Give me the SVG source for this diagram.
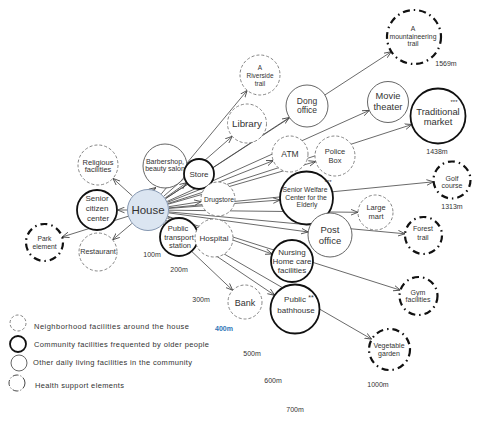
<svg xmlns="http://www.w3.org/2000/svg" width="483" height="425" viewBox="0 0 483 425">
<style>
text{font-family:"Liberation Sans",Arial,sans-serif;fill:#333;text-anchor:middle}
.nb{fill:#fff;stroke:#777;stroke-width:0.9;stroke-dasharray:3 2}
.cm{fill:#fff;stroke:#111;stroke-width:1.8}
.ot{fill:#fff;stroke:#555;stroke-width:0.9}
.hs{fill:#fff;stroke:#111;stroke-width:2.2;stroke-dasharray:7 4 1.5 4}
#connectors line{stroke:#444;stroke-width:0.8;marker-end:url(#ah)}
.lg text{text-anchor:start;font-size:7.5px}
.d text{font-size:7px}
</style>
<defs>
<marker id="ah" viewBox="0 0 10 10" refX="10" refY="5" markerWidth="7" markerHeight="7" markerUnits="userSpaceOnUse" orient="auto">
<path d="M0,1 L10,5 L0,9" fill="none" stroke="#444" stroke-width="1.2"/>
</marker>
</defs>
<rect width="483" height="425" fill="#fff"/>
<g id="connectors">
<line x1="132.4" y1="196" x2="112.9" y2="178.4"/>
<line x1="127" y1="210" x2="117.5" y2="210"/>
<line x1="128" y1="216.3" x2="62.1" y2="237"/>
<line x1="131.9" y1="223.5" x2="112.6" y2="239.8"/>
<line x1="151" y1="191" x2="156" y2="187.5"/>
<line x1="165.2" y1="197.9" x2="186.7" y2="182.7"/>
<line x1="168.7" y1="206.7" x2="201.2" y2="201.6"/>
<line x1="167.3" y1="218.2" x2="196.5" y2="230.6"/>
<line x1="163.8" y1="196.2" x2="232.3" y2="136.3"/>
<line x1="161.4" y1="193.8" x2="247.2" y2="90.4"/>
<line x1="165.6" y1="198.5" x2="289.4" y2="117.5"/>
<line x1="167.5" y1="202.3" x2="273.3" y2="160.6"/>
<line x1="168.2" y1="204.2" x2="315.8" y2="161.5"/>
<line x1="167.2" y1="201.4" x2="369.3" y2="110.4"/>
<line x1="168" y1="203.5" x2="411.9" y2="124.5"/>
<line x1="165.6" y1="198.6" x2="391.4" y2="51.7"/>
<line x1="169" y1="208.4" x2="280.1" y2="200"/>
<line x1="168.9" y1="207.9" x2="433.6" y2="181.8"/>
<line x1="169" y1="210.2" x2="358" y2="212.3"/>
<line x1="168.8" y1="212.9" x2="308.2" y2="232"/>
<line x1="168.9" y1="211.9" x2="405.1" y2="233.8"/>
<line x1="167.8" y1="217" x2="272.2" y2="254"/>
<line x1="168" y1="216.4" x2="400.4" y2="290.2"/>
<line x1="165.4" y1="221.7" x2="274.7" y2="295.3"/>
<line x1="166.2" y1="220.5" x2="371.7" y2="339.2"/>
<line x1="163.2" y1="224.4" x2="232.7" y2="290.3"/>
</g>
<g id="religious"><circle class="nb" cx="98" cy="165" r="20"/><text x="98" y="164.5" font-size="7.5">Religious</text><text x="98" y="172" font-size="7.5">facilities</text></g>
<g id="senior-citizen-center"><circle class="cm" cx="97" cy="210" r="20"/><text x="97" y="201" font-size="8">Senior</text><text x="97" y="211" font-size="8">citizen</text><text x="98" y="221" font-size="8">center</text></g>
<g id="park"><circle class="hs" cx="44.5" cy="242.5" r="18.5"/><text x="44.5" y="240.5" font-size="6.8">Park</text><text x="44.5" y="248.5" font-size="6.8">element</text></g>
<g id="restaurant"><circle class="nb" cx="98" cy="252" r="19"/><text x="98" y="254" font-size="7.3">Restaurant</text></g>
<g id="barbershop"><circle class="ot" cx="165" cy="166" r="22"/><text x="165" y="163.5" font-size="7">Barbershop,</text><text x="165" y="170.5" font-size="7">beauty salon</text></g>
<g id="house"><circle cx="148" cy="210" r="20.5" fill="#dbe5f1" stroke="#8496b0" stroke-width="1"/><text x="148" y="214" font-size="11.5">House</text></g>
<g id="store"><circle class="cm" cx="199" cy="174" r="15"/><text x="199" y="177" font-size="8">Store</text></g>
<g id="drugstore"><circle class="nb" cx="218" cy="199" r="17"/><text x="219" y="202" font-size="6.8">Drugstore</text></g>
<g id="public-transport"><circle class="cm" cx="179" cy="237" r="19"/><text x="178" y="231" font-size="7.5">Public</text><text x="179" y="239.5" font-size="7.5">transport</text><text x="180" y="248" font-size="7.5">station</text></g>
<g id="hospital"><circle class="nb" cx="214" cy="238" r="19"/><text x="214" y="240.5" font-size="8">Hospital</text></g>
<g id="library"><circle class="nb" cx="247" cy="123.5" r="19.5"/><text x="247" y="127" font-size="9.8">Library</text></g>
<g id="riverside"><circle class="nb" cx="260" cy="75" r="20"/><text x="260" y="69.5" font-size="6.5">A</text><text x="260" y="77.5" font-size="6.5">Riverside</text><text x="260" y="85.5" font-size="6.5">trail</text></g>
<g id="dong-office"><circle class="ot" cx="307" cy="106" r="21"/><text x="307" y="104" font-size="8.5">Dong</text><text x="307" y="113" font-size="8.5">office</text></g>
<g id="atm"><circle class="nb" cx="290" cy="154" r="18"/><text x="290" y="157" font-size="8.5">ATM</text></g>
<g id="police-box"><circle class="nb" cx="335" cy="156" r="20"/><text x="335" y="153.5" font-size="7.5">Police</text><text x="335" y="162.5" font-size="7.5">Box</text></g>
<g id="movie-theater"><circle class="ot" cx="388" cy="102" r="20.5"/><text x="388" y="98.5" font-size="9.3">Movie</text><text x="388" y="109.5" font-size="9.3">theater</text></g>
<g id="traditional-market"><circle class="cm" cx="438" cy="116" r="27.5"/><text x="438" y="114.5" font-size="9.4">Traditional</text><text x="438" y="125" font-size="9.4">market</text><text x="454" y="104" font-size="6">***</text><text x="437" y="154" font-size="7">1438m</text></g>
<g id="mountaineering-trail"><circle class="hs" cx="414" cy="37" r="27"/><text x="413" y="30.5" font-size="6.8">A</text><text x="413" y="38.5" font-size="6.8">mountaineering</text><text x="413" y="46" font-size="6.8">trail</text><text x="446" y="65.5" font-size="7">1569m</text></g>
<g id="senior-welfare"><circle class="cm" cx="306.5" cy="198" r="26.5"/><text x="305" y="191.5" font-size="6.8">Senior Welfare</text><text x="306" y="199.5" font-size="6.8">Center for the</text><text x="307" y="207" font-size="6.8">Elderly</text><text x="328" y="184" font-size="6">***</text></g>
<g id="golf-course"><circle class="hs" cx="452" cy="180" r="18.5"/><text x="452" y="180.5" font-size="7">Golf</text><text x="452" y="188" font-size="7">course</text><text x="452" y="208.5" font-size="7">1313m</text></g>
<g id="large-mart"><circle class="nb" cx="375.5" cy="212.5" r="17.5"/><text x="376" y="209.5" font-size="7.5">Large</text><text x="376" y="218.5" font-size="7.5">mart</text></g>
<g id="post-office"><circle class="ot" cx="330" cy="235" r="22"/><text x="330" y="232.5" font-size="9.5">Post</text><text x="330" y="243.5" font-size="9.5">office</text></g>
<g id="forest-trail"><circle class="hs" cx="423.5" cy="235.5" r="18.5"/><text x="423" y="230.5" font-size="7">Forest</text><text x="423" y="239.5" font-size="7">trail</text></g>
<g id="nursing-home"><circle class="cm" cx="292" cy="261" r="21"/><text x="292" y="254.5" font-size="8">Nursing</text><text x="292" y="263.5" font-size="8">Home care</text><text x="292" y="272.5" font-size="8">facilities</text></g>
<g id="gym"><circle class="hs" cx="418.5" cy="296" r="19"/><text x="418" y="294.5" font-size="7">Gym</text><text x="418" y="302" font-size="7">facilities</text></g>
<g id="public-bathhouse"><circle class="cm" cx="295" cy="309" r="24.5"/><text x="295" y="301.5" font-size="8">Public</text><text x="296" y="313" font-size="8">bathhouse</text><text x="311" y="300" font-size="7">**</text></g>
<g id="bank"><circle class="nb" cx="245" cy="302" r="17"/><text x="245" y="306" font-size="9">Bank</text></g>
<g id="vegetable-garden"><circle class="hs" cx="389.5" cy="349.5" r="20.5"/><text x="389" y="347.5" font-size="7">Vegetable</text><text x="389" y="355.5" font-size="7">garden</text></g>
<g id="distances" class="d">
<text x="152" y="256.5">100m</text>
<text x="179" y="271.5">200m</text>
<text x="201" y="301.5">300m</text>
<text x="224" y="330.5" style="fill:#2e75b6;font-weight:bold">400m</text>
<text x="252" y="355.5">500m</text>
<text x="273" y="382.5">600m</text>
<text x="378" y="386.5">1000m</text>
<text x="295" y="411.5">700m</text>
</g>
<g id="legend" class="lg">
<circle class="nb" cx="18" cy="323" r="8"/>
<text x="34" y="328.5" textLength="155" lengthAdjust="spacing">Neighborhood  facilities  around the house</text>
<circle class="cm" cx="18" cy="344" r="8"/>
<text x="34" y="346.5" textLength="175" lengthAdjust="spacing">Community  facilities  frequented  by  older people</text>
<circle class="ot" cx="19" cy="363" r="8"/>
<text x="33" y="364.5" textLength="159" lengthAdjust="spacing">Other daily living facilities in the community</text>
<circle cx="17" cy="383" r="8" fill="#fff" stroke="#333" stroke-width="0.9" stroke-dasharray="6 2 1 2"/>
<text x="35" y="387.5" textLength="89" lengthAdjust="spacing">Health support elements</text>
</g>
</svg>
